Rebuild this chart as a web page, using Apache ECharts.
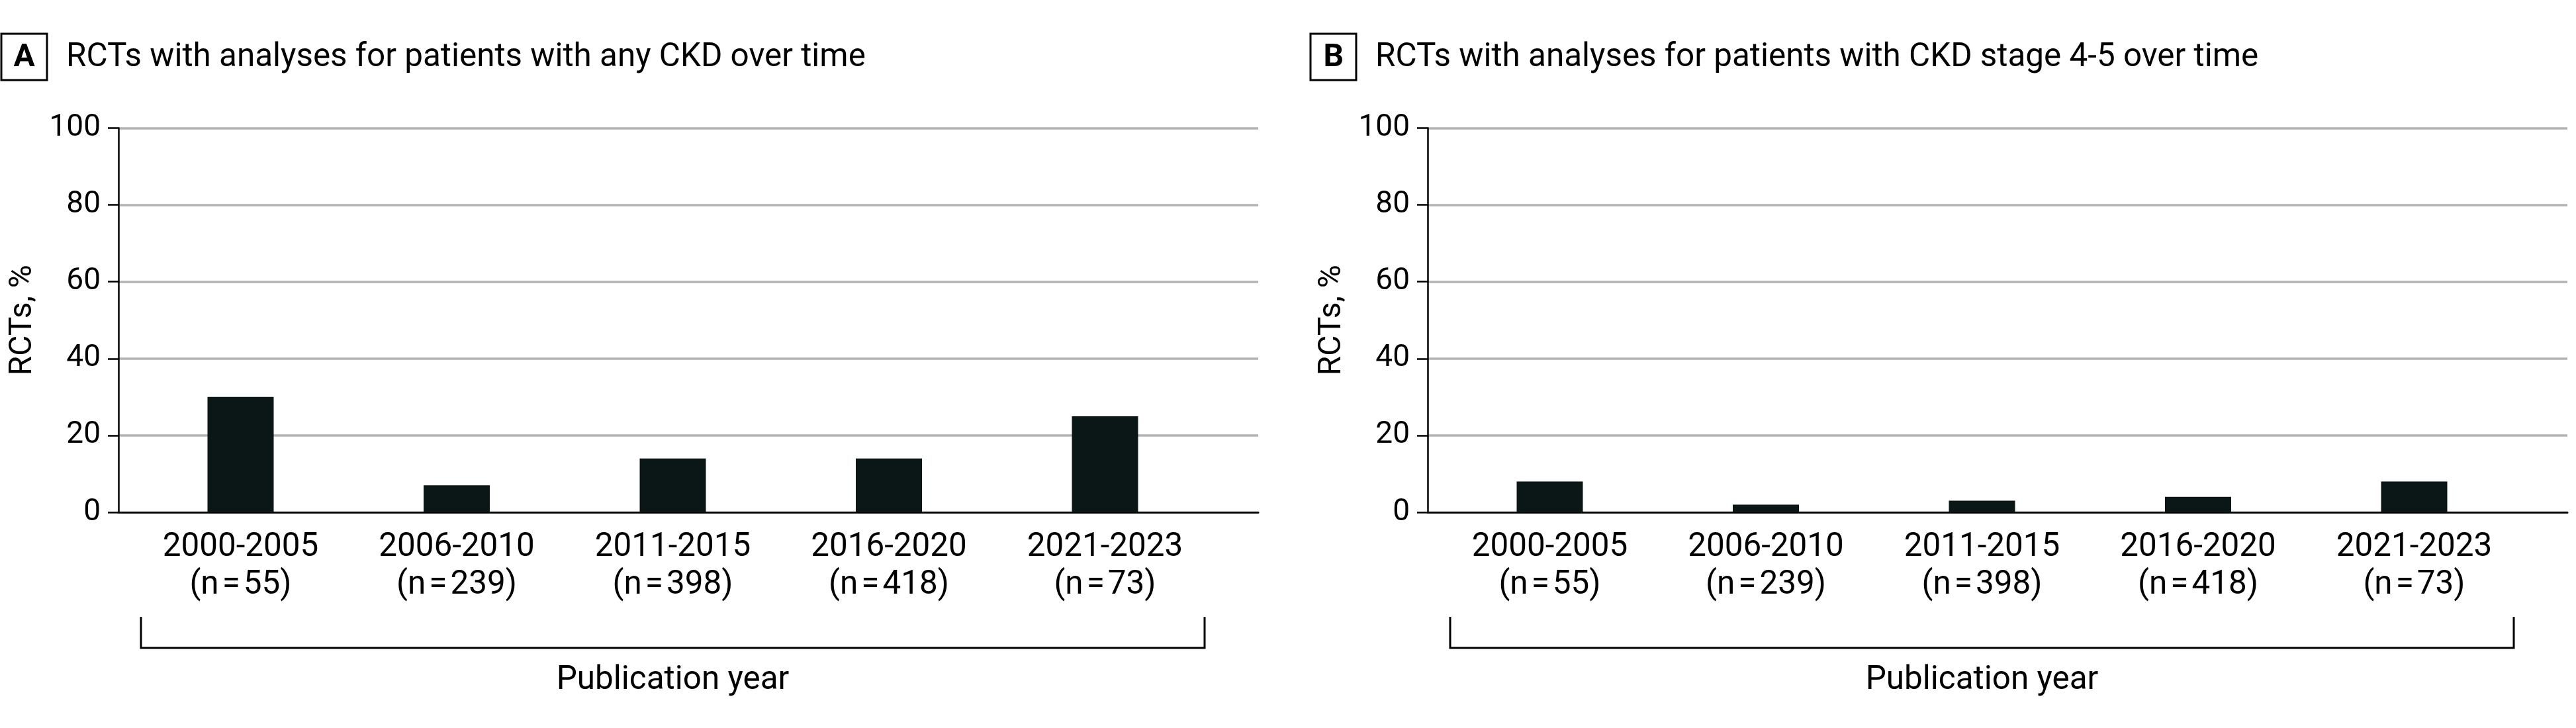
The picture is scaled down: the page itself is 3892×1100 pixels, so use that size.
<!DOCTYPE html>
<html><head><meta charset="utf-8">
<script src="https://cdn.jsdelivr.net/npm/echarts@6.0.0/dist/echarts.min.js"></script>
<style>html,body{margin:0;padding:0;background:#fff}#c{width:3892px;height:1100px}</style>
</head><body><div id="c"></div>
<script>
// ---------- data ----------
const categories = ['2000-2005', '2006-2010', '2011-2015', '2016-2020', '2021-2023'];
const sampleSizes = [55, 239, 398, 418, 73];
const anyCkdPct = [30, 7, 14, 14, 25];
const stage45Pct = [8, 2, 3, 4, 8];
const yMin = 0, yMax = 100, yInterval = 20;
const panelLetters = ['A', 'B'];
const panelTitles = [
  'RCTs with analyses for patients with any CKD over time',
  'RCTs with analyses for patients with CKD stage 4-5 over time'
];
const yAxisName = 'RCTs, %';
const xAxisName = 'Publication year';

// ---------- style / layout ----------
const FONT = 'Roboto';
const PANEL_DX = 1978;
const FRAME_LEFT = 179, FRAME_W = 1722, TOP = 193.5, H = 580.5;
const BAR_LEFT = 200.25, BAR_W = 1632.5;
const BAR_COLOR = '#0a1716';
const GRID_COLOR = '#b3b3b3';

const catLabels = categories.map((c, i) => c + '\n(n\u200a=\u200a' + sampleSizes[i] + ')');
const seriesData = [anyCkdPct, stage45Pct];

const grids = [], xAxes = [], yAxes = [], series = [], graphics = [];
for (let p = 0; p < 2; p++) {
  const dx = p * PANEL_DX;
  // frame grid (y axis, gridlines, baseline)
  grids.push({left: FRAME_LEFT + dx, top: TOP, width: FRAME_W, height: H, outerBoundsMode: 'none'});
  // bar grid
  grids.push({left: BAR_LEFT + dx, top: TOP, width: BAR_W, height: H, outerBoundsMode: 'none'});
  const g0 = p * 2, g1 = p * 2 + 1;
  xAxes.push({
    gridIndex: g0, type: 'value', min: 0, max: 1,
    axisLine: {show: true, onZero: false, lineStyle: {color: '#000', width: 3}},
    axisTick: {show: false}, axisLabel: {show: false}, splitLine: {show: false}
  });
  yAxes.push({
    gridIndex: g0, type: 'value', min: yMin, max: yMax, interval: yInterval,
    axisLine: {show: true, lineStyle: {color: '#000', width: 2.5}},
    axisTick: {show: true, length: 16, lineStyle: {color: '#000', width: 2.5}},
    axisLabel: {margin: 27, fontSize: 46, color: '#000', fontFamily: FONT},
    splitLine: {show: true, showMinLine: false, lineStyle: {color: GRID_COLOR, width: 3.5}},
    name: yAxisName, nameLocation: 'middle', nameRotate: 90, nameGap: 119,
    nameTextStyle: {fontSize: 48, color: '#000', fontFamily: FONT, lineHeight: 50}
  });
  xAxes.push({
    gridIndex: g1, type: 'category', data: catLabels,
    axisLine: {show: false}, axisTick: {show: false},
    axisLabel: {margin: 25.5, fontSize: 49.4, lineHeight: 57, color: '#000', fontFamily: FONT, interval: 0},
    name: xAxisName, nameLocation: 'middle', nameGap: 230,
    nameTextStyle: {fontSize: 49.4, color: '#000', fontFamily: FONT, lineHeight: 50}
  });
  yAxes.push({
    gridIndex: g1, type: 'value', min: yMin, max: yMax, show: false
  });
  series.push({
    type: 'bar', xAxisIndex: g1, yAxisIndex: g1, data: seriesData[p],
    barWidth: 100, itemStyle: {color: BAR_COLOR}, silent: true
  });
  // panel letter box
  graphics.push({type: 'rect', shape: {x: 2 + dx, y: 51, width: 69, height: 70},
    style: {fill: '#fff', stroke: '#000', lineWidth: 3}});
  graphics.push({type: 'text', x: 36.7 + dx, y: 87.8,
    style: {text: panelLetters[p], font: 'bold 48px ' + FONT, fill: '#000', align: 'center', verticalAlign: 'middle'}});
  graphics.push({type: 'text', x: 100 + dx, y: 87.5,
    style: {text: panelTitles[p], font: '49.4px ' + FONT, fill: '#000', align: 'left', verticalAlign: 'middle'}});
  // bracket under categories
  graphics.push({type: 'polyline', shape: {points: [[213 + dx, 932], [213 + dx, 979], [1820 + dx, 979], [1820 + dx, 932]]},
    style: {stroke: '#000', lineWidth: 3, fill: null}});
}

const chart = echarts.init(document.getElementById('c'), null, {renderer: 'canvas', width: 3892, height: 1100});
chart.setOption({
  animation: false,
  backgroundColor: '#fff',
  grid: grids, xAxis: xAxes, yAxis: yAxes, series: series, graphic: graphics
});
</script>
</body></html>
